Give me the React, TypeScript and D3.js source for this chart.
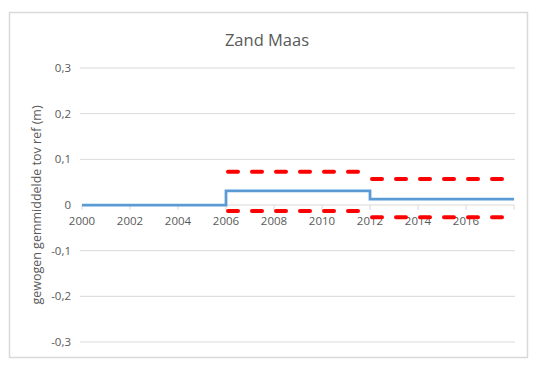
import React from "react";
import * as d3 from "d3";

// step periods (start year, end year)
const periods = [
  [2000, 2006],
  [2006, 2012],
  [2012, 2018],
];
const meanValues = [0, 0.031, 0.013];
const upperValues = [null, 0.073, 0.057];
const lowerValues = [null, -0.013, -0.027];
const yTicks = [0.3, 0.2, 0.1, 0, -0.1, -0.2, -0.3];
const xTicks = [2000, 2002, 2004, 2006, 2008, 2010, 2012, 2014, 2016, 2018];

const width = 537;
const height = 368;
const font = "'Open Sans', sans-serif";

export default function App() {
  const x = d3.scaleLinear().domain([2000, 2018]).range([82, 514]);
  const y = d3.scaleLinear().domain([-0.3, 0.3]).range([342, 68]);

  // blue stepped line through all periods
  const stepPts: [number, number][] = [];
  periods.forEach((p, i) => {
    stepPts.push([p[0], meanValues[i]]);
    stepPts.push([p[1], meanValues[i]]);
  });
  const line = d3
    .line<[number, number]>()
    .x((d) => x(d[0]))
    .y((d) => y(d[1]));

  const fmt = (v: number) => (v === 0 ? "0" : d3.format(".1f")(v).replace(".", ",").replace("−", "-"));

  return (
    <svg
      width={width}
      height={height}
      style={{ position: "absolute", left: 0, top: 0, background: "#fff" }}
    >
      <rect x={9.5} y={12.5} width={518} height={345} fill="#fff" stroke="#d9d9d9" strokeWidth={1.5} />
      <text x={267} y={46} textAnchor="middle" fontFamily={font} fontSize={16.5} fill="#595959">
        Zand Maas
      </text>

      {yTicks.map((t) => (
        <g key={t}>
          {t !== 0 && (
            <line x1={80} x2={515} y1={y(t)} y2={y(t)} stroke="#d9d9d9" strokeWidth={1} />
          )}
          <text
            x={71}
            y={y(t)}
            dy="0.35em"
            textAnchor="end"
            fontFamily={font}
            fontSize={11.5}
            fill="#595959"
          >
            {fmt(t)}
          </text>
        </g>
      ))}

      {/* x axis at zero */}
      <line x1={x(2000)} x2={x(2018)} y1={y(0)} y2={y(0)} stroke="#d9d9d9" strokeWidth={1} />
      {xTicks.map((t) => (
        <g key={t}>
          <line x1={x(t)} x2={x(t)} y1={y(0)} y2={y(0) + 5} stroke="#d9d9d9" />
          {t < 2018 && (
            <text
              x={x(t)}
              y={y(0) + 20}
              textAnchor="middle"
              fontFamily={font}
              fontSize={11.5}
              fill="#595959"
            >
              {t}
            </text>
          )}
        </g>
      ))}

      <text
        transform={`translate(41,${y(0)}) rotate(-90)`}
        textAnchor="middle"
        fontFamily={font}
        fontSize={12.5}
        fill="#595959"
      >
        gewogen gemmiddelde tov ref (m)
      </text>

      {/* confidence bands */}
      {periods.map((p, i) =>
        [upperValues[i], lowerValues[i]].map((v, j) =>
          v === null ? null : (
            <line
              key={`${i}-${j}`}
              x1={x(p[0]) + 2}
              x2={x(p[1])}
              y1={y(v)}
              y2={y(v)}
              stroke="#ff0000"
              strokeWidth={4}
              strokeDasharray="10 14"
              strokeLinecap="round"
            />
          )
        )
      )}

      <path d={line(stepPts) ?? ""} fill="none" stroke="#5b9bd5" strokeWidth={2.75} />
    </svg>
  );
}
